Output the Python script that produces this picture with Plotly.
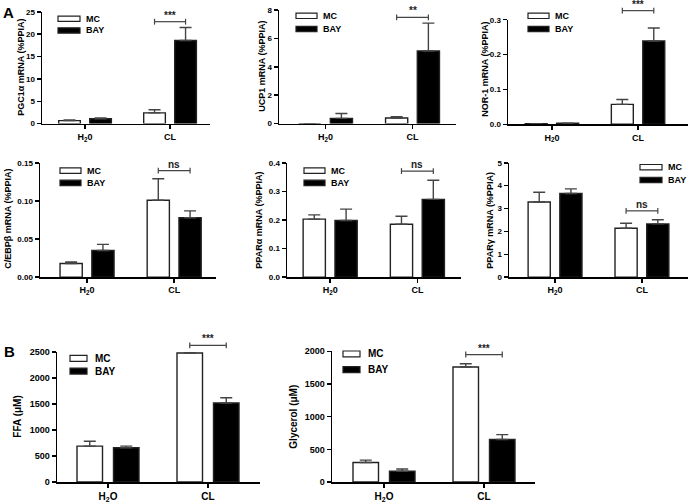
import plotly.graph_objects as go

W, H = 688, 504
FONT = "Arial, 'Liberation Sans', sans-serif"

# ---------------- data ----------------
cats_top = ["H<sub>2</sub>0", "CL"]
cats_bottom = ["H<sub>2</sub>O", "CL"]
series_names = ["MC", "BAY"]

pgc1a_mc = [0.66, 2.4]
pgc1a_mc_err = [0.14, 0.7]
pgc1a_bay = [1.1, 18.6]
pgc1a_bay_err = [0.14, 2.9]

ucp1_mc = [0.0, 0.39]
ucp1_mc_err = [0.0, 0.09]
ucp1_bay = [0.37, 5.11]
ucp1_bay_err = [0.34, 1.96]

nor1_mc = [0.002, 0.057]
nor1_mc_err = [0.0, 0.014]
nor1_bay = [0.003, 0.239]
nor1_bay_err = [0.0, 0.037]

cebpb_mc = [0.018, 0.101]
cebpb_mc_err = [0.002, 0.028]
cebpb_bay = [0.035, 0.078]
cebpb_bay_err = [0.008, 0.009]

ppara_mc = [0.203, 0.185]
ppara_mc_err = [0.015, 0.028]
ppara_bay = [0.198, 0.272]
ppara_bay_err = [0.040, 0.067]

pparg_mc = [3.29, 2.14]
pparg_mc_err = [0.42, 0.22]
pparg_bay = [3.66, 2.33]
pparg_bay_err = [0.20, 0.18]

ffa_mc = [691, 2480]
ffa_mc_err = [94, 8]
ffa_bay = [660, 1520]
ffa_bay_err = [31, 100]

glycerol_mc = [300, 1760]
glycerol_mc_err = [35, 50]
glycerol_bay = [165, 650]
glycerol_bay_err = [35, 75]

y_titles = ["PGC1α mRNA (%PPIA)", "UCP1 mRNA (%PPIA)", "NOR-1 mRNA (%PPIA)",
            "C/EBPβ mRNA (%PPIA)", "PPARα mRNA (%PPIA)", "PPARγ mRNA (%PPIA)",
            "FFA (μM)", "Glycerol (μM)"]
sig_labels = ["***", "**", "***", "ns", "ns", "ns", "***", "***"]
sig_heights = [22.8, 7.47, 0.326, 0.1397, 0.371, 2.9, 2626, 1950]

y_max = [25, 8, 0.3, 0.15, 0.4, 5, 2500, 2000]
y_dtick = [5, 2, 0.1, 0.05, 0.1, 1, 500, 500]
y_fmt = ["d", "d", ".1f", ".2f", ".1f", "d", "d", "d"]

mc_vals = [pgc1a_mc, ucp1_mc, nor1_mc, cebpb_mc, ppara_mc, pparg_mc, ffa_mc, glycerol_mc]
mc_errs = [pgc1a_mc_err, ucp1_mc_err, nor1_mc_err, cebpb_mc_err, ppara_mc_err,
           pparg_mc_err, ffa_mc_err, glycerol_mc_err]
bay_vals = [pgc1a_bay, ucp1_bay, nor1_bay, cebpb_bay, ppara_bay, pparg_bay, ffa_bay, glycerol_bay]
bay_errs = [pgc1a_bay_err, ucp1_bay_err, nor1_bay_err, cebpb_bay_err, ppara_bay_err,
            pparg_bay_err, ffa_bay_err, glycerol_bay_err]

# ---------------- layout geometry (pixels) ----------------
# x0, x1, y_top, y_zero, xrange lo, xrange hi
geom = [
    (42, 210, 7, 121, -0.506, 1.47),
    (279, 456, 5, 121, -0.535, 1.50),
    (508, 688, 15, 121.7, -0.51, 1.58),
    (40, 216, 161, 277.7, -0.54, 1.48),
    (287, 461, 161, 277.7, -0.495, 1.50),
    (509, 688, 161, 277.7, -0.53, 1.53),
    (57, 260, 354, 486.7, -0.51, 1.52),
    (332, 535, 353.3, 486.7, -0.52, 1.51),
]
title_pos = [(21, 64), (262, 63), (485, 66), (8, 218), (259, 220), (490, 220),
             (18, 420), (294, 420)]
# legend: rect x0, x1, y MC, y BAY, text x, rect height, font size
legend_pos = [
    (58, 80, 14, 26, 84, 5.5, 9),
    (296, 317, 11, 24.5, 321, 5.5, 9),
    (528, 549, 11, 24.5, 553, 5.5, 9),
    (60, 81, 169, 181.5, 85, 5.5, 9),
    (304, 325, 169, 181.5, 329, 5.5, 9),
    (640, 662, 165.5, 178.5, 666, 5.5, 9),
    (70, 87, 360.5, 373.5, 93, 6, 10),
    (343, 360, 356, 372, 366, 6, 10),
]

MC_OFF, BAY_OFF, BW = -0.31, 0.055, 0.255
LINE = "#222222"
ERR = "#444444"


def px(x):
    return x / W


def py(y):
    return 1 - y / H


fig = go.Figure()
shapes = []
annotations = []

for i in range(8):
    k = "" if i == 0 else str(i + 1)
    xa, ya = "x" + k, "y" + k
    x0, x1, yt, yz, lo, hi = geom[i]
    cats = cats_bottom if i >= 6 else cats_top
    big = i >= 6

    fig.add_trace(go.Bar(
        x=[0, 1], y=mc_vals[i], name=series_names[0], xaxis=xa, yaxis=ya,
        offset=MC_OFF, width=BW, showlegend=False,
        marker=dict(color="white", line=dict(color=LINE, width=1.4)),
        error_y=dict(type="data", symmetric=False, array=mc_errs[i], arrayminus=[0, 0],
                     color=ERR, thickness=1.4, width=6),
    ))
    fig.add_trace(go.Bar(
        x=[0, 1], y=bay_vals[i], name=series_names[1], xaxis=xa, yaxis=ya,
        offset=BAY_OFF, width=BW, showlegend=False,
        marker=dict(color="black", line=dict(color=LINE, width=1.4)),
        error_y=dict(type="data", symmetric=False, array=bay_errs[i], arrayminus=[0, 0],
                     color=ERR, thickness=1.4, width=6),
    ))

    # significance bracket between CL bars (domain-relative so it may sit above the axis)
    xl = 1 + MC_OFF + BW / 2
    xr = 1 + BAY_OFF + BW / 2
    frac = sig_heights[i] / y_max[i]
    hpx = yz - yt
    tick = 3.0 / hpx
    yd = ya + " domain"
    shapes.append(dict(type="line", xref=xa, yref=yd, x0=xl, x1=xr, y0=frac, y1=frac,
                       line=dict(color=ERR, width=1.2)))
    for xe in (xl, xr):
        shapes.append(dict(type="line", xref=xa, yref=yd, x0=xe, x1=xe,
                           y0=frac - tick, y1=frac + tick, line=dict(color=ERR, width=1.2)))
    annotations.append(dict(
        x=(xl + xr) / 2, y=frac, xref=xa, yref=yd, text="<b>%s</b>" % sig_labels[i],
        showarrow=False, yanchor="bottom", yshift=-1,
        font=dict(family=FONT, size=10, color="#222"),
    ))

    axis_x = dict(
        domain=[px(x0), px(x1)], range=[lo, hi], anchor=ya,
        tickmode="array", tickvals=[0, 1], ticktext=cats,
        showline=True, linecolor="black", linewidth=1.5,
        ticks="outside", ticklen=4, tickwidth=1.5, tickcolor="black",
        showgrid=False, zeroline=False, fixedrange=True,
        tickfont=dict(family=FONT, size=10 if big else 9, color="black", weight="bold"),
    )
    axis_y = dict(
        domain=[py(yz), py(yt)], range=[0, y_max[i]], anchor=xa,
        dtick=y_dtick[i], tick0=0, tickformat=y_fmt[i],
        showline=True, linecolor="black", linewidth=1.5,
        ticks="outside", ticklen=4, tickwidth=1.5, tickcolor="black",
        showgrid=False, zeroline=False, fixedrange=True,
        tickfont=dict(family=FONT, size=9 if big else 8, color="black", weight="bold"),
    )
    fig.update_layout({"xaxis" + k: axis_x, "yaxis" + k: axis_y})

    tx, ty = title_pos[i]
    annotations.append(dict(
        x=px(tx), y=py(ty), xref="paper", yref="paper", text="<b>%s</b>" % y_titles[i],
        textangle=-90, showarrow=False, xanchor="center", yanchor="middle",
        font=dict(family=FONT, size=10 if big else 9, color="black"),
    ))

    rx0, rx1, ymc, ybay, txx, rh, fs = legend_pos[i]
    for yy, fill, nm in [(ymc, "white", series_names[0]), (ybay, "black", series_names[1])]:
        shapes.append(dict(type="rect", xref="paper", yref="paper",
                           x0=px(rx0), x1=px(rx1), y0=py(yy + rh / 2), y1=py(yy - rh / 2),
                           fillcolor=fill, line=dict(color=LINE, width=1.2)))
        annotations.append(dict(
            x=px(txx), y=py(yy), xref="paper", yref="paper", text="<b>%s</b>" % nm,
            showarrow=False, xanchor="left", yanchor="middle",
            font=dict(family=FONT, size=fs, color="black"),
        ))

for letter, (lx, ly) in [("A", (8, 8)), ("B", (9, 354))]:
    annotations.append(dict(
        x=px(lx), y=py(ly), xref="paper", yref="paper", text="<b>%s</b>" % letter,
        showarrow=False, xanchor="center", yanchor="middle",
        font=dict(family=FONT, size=15, color="black"),
    ))

fig.update_layout(
    width=W, height=H, margin=dict(l=0, r=0, t=0, b=0),
    paper_bgcolor="white", plot_bgcolor="white",
    barmode="overlay", showlegend=False,
    shapes=shapes, annotations=annotations,
    font=dict(family=FONT, color="black"),
)

fig.write_html(
    "out.html",
    config={"displayModeBar": False, "staticPlot": True},
    post_script="document.body.style.margin='0';document.body.style.overflow='hidden';",
)
